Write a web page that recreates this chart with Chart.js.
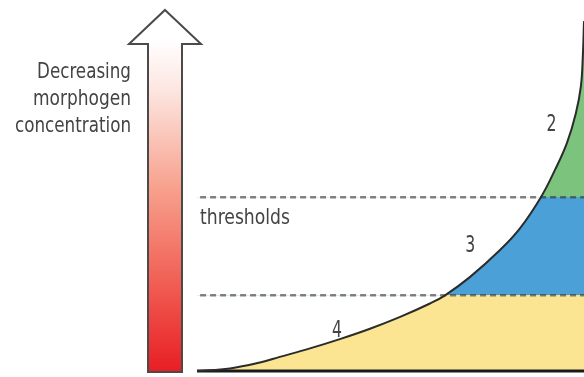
<!DOCTYPE html>
<html>
<head>
<meta charset="utf-8">
<script src="https://cdn.jsdelivr.net/npm/chart.js@4/dist/chart.umd.min.js"></script>
<style>
  html, body { margin: 0; padding: 0; background: #ffffff; }
  #wrap { position: relative; width: 584px; height: 377px; }
</style>
</head>
<body>
<div id="wrap"><canvas id="c"></canvas></div>
<script>
// ---- data (position along tissue 0..100, morphogen level 0..100) ----
const positions = [0, 8.5, 16.3, 21.4, 29.2, 36.9, 44.7, 52.5, 60.2, 64.1, 70.5, 78.3, 83.5, 88.9, 92.5, 95.6, 97.9, 99.2, 99.7, 100];
const levels    = [0, 0.7, 2.3, 3.8, 6.1, 8.6, 11.4, 14.6, 18.2, 20.4, 25.3, 32.6, 38.5, 46.9, 54.2, 61.5, 69.5, 76.8, 84.9, 94.3];
const thresholds = [20.4, 46.8];
const thresholdStart = 0.8;
const regionLabels = ['2', '3', '4'];
const thresholdLabel = 'thresholds';
const axisLabelLines = ['Decreasing', 'morphogen', 'concentration'];

const curve = positions.map((x, i) => ({ x: x, y: levels[i] }));
const hLine = (v) => [{ x: thresholdStart, y: v }, { x: 100, y: v }];

const COLORS = {
  green: 'rgb(124,196,126)',
  blue: 'rgb(76,160,216)',
  yellow: 'rgb(251,229,146)',
  curve: '#2b2b2b',
  dash: 'rgba(50,50,50,0.6)',
  text: '#444444'
};
const TENSION = 0.4;

const decoPlugin = {
  id: 'deco',
  afterDraw(chart) {
    const ctx = chart.ctx;
    ctx.save();
    // big arrow
    const tipX = 165, tipY = 10, wingY = 44, wingL = 129, wingR = 201;
    const shL = 148, shR = 182, botY = 372;
    const g = ctx.createLinearGradient(0, botY, 0, tipY + 30);
    g.addColorStop(0, 'rgb(232,30,36)');
    g.addColorStop(0.25, 'rgb(240,90,80)');
    g.addColorStop(0.55, 'rgb(247,160,140)');
    g.addColorStop(0.85, 'rgb(253,230,225)');
    g.addColorStop(1, '#ffffff');
    ctx.beginPath();
    ctx.moveTo(tipX, tipY);
    ctx.lineTo(wingR, wingY);
    ctx.lineTo(shR, wingY);
    ctx.lineTo(shR, botY);
    ctx.lineTo(shL, botY);
    ctx.lineTo(shL, wingY);
    ctx.lineTo(wingL, wingY);
    ctx.closePath();
    ctx.fillStyle = g;
    ctx.fill();
    ctx.lineWidth = 2;
    ctx.strokeStyle = '#4a4a4a';
    ctx.lineJoin = 'miter';
    ctx.stroke();

    // texts
    const fam = "'Liberation Sans Narrow', 'DejaVu Sans Condensed', 'Roboto', sans-serif";
    ctx.fillStyle = COLORS.text;
    ctx.textBaseline = 'alphabetic';
    const drawFit = (txt, x, y, size, targetW, align) => {
      ctx.font = size + 'px ' + fam;
      const w = ctx.measureText(txt).width;
      const s = targetW ? targetW / w : 1;
      ctx.save();
      let x0 = x;
      if (align === 'right') x0 = x - w * s;
      else if (align === 'center') x0 = x - (w * s) / 2;
      ctx.translate(x0, y);
      ctx.scale(s, 1);
      ctx.textAlign = 'left';
      ctx.fillText(txt, 0, 0);
      ctx.restore();
    };
    const lineY = [78, 105, 132];
    const lineW = [94, 98, 116];
    axisLabelLines.forEach((t, i) => drawFit(t, 131, lineY[i], 22, lineW[i], 'right'));
    drawFit(thresholdLabel, 200, 224, 22, 90, 'left');

    const xs = chart.scales.x, ys = chart.scales.y;
    const pos = [[91.6, 64.8], [70.6, 32.0], [36.2, 9.2]];
    regionLabels.forEach((t, i) => {
      drawFit(t, xs.getPixelForValue(pos[i][0]), ys.getPixelForValue(pos[i][1]), 23, 10, 'center');
    });
    ctx.restore();
  }
};

const fillSet = (fill) => ({ data: curve, borderWidth: 0, borderColor: 'transparent', pointRadius: 0, tension: TENSION, fill: fill });

new Chart(document.getElementById('c'), {
  type: 'line',
  data: {
    datasets: [
      { data: curve, borderColor: COLORS.curve, borderWidth: 2, pointRadius: 0, fill: false, tension: TENSION, clip: 3 },
      { data: [{ x: 0, y: 0 }, { x: 100, y: 0 }], borderColor: '#1a1a1a', borderWidth: 3, pointRadius: 0, fill: false, clip: 4 },
      { data: hLine(thresholds[1]), borderColor: COLORS.dash, borderWidth: 2.5, borderDash: [6, 4], pointRadius: 0, fill: false },
      { data: hLine(thresholds[0]), borderColor: COLORS.dash, borderWidth: 2.5, borderDash: [6, 4], pointRadius: 0, fill: false },
      fillSet({ target: { value: thresholds[1] }, above: COLORS.green, below: 'rgba(0,0,0,0)' }),
      fillSet({ target: { value: thresholds[0] }, above: COLORS.blue, below: 'rgba(0,0,0,0)' }),
      fillSet({ target: 'origin', above: COLORS.yellow, below: 'rgba(0,0,0,0)' })
    ]
  },
  options: {
    responsive: true,
    maintainAspectRatio: false,
    devicePixelRatio: 1,
    animation: false,
    layout: { padding: { left: 197, right: 0, top: 0, bottom: 6 } },
    scales: {
      x: { type: 'linear', min: 0, max: 100, display: false },
      y: { type: 'linear', min: 0, max: 100, display: false }
    },
    plugins: { legend: { display: false }, tooltip: { enabled: false } }
  },
  plugins: [decoPlugin]
});
</script>
</body>
</html>
